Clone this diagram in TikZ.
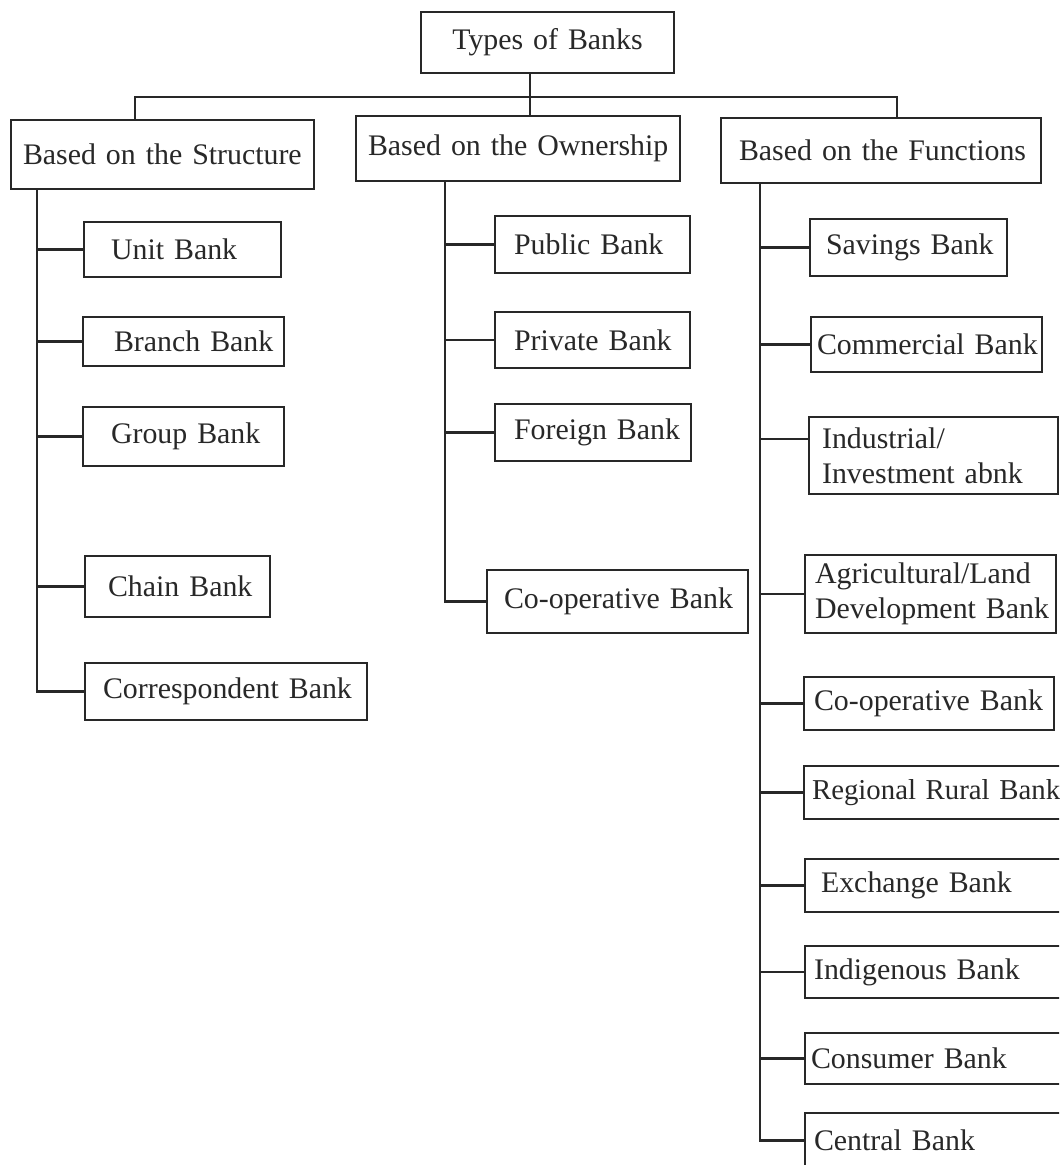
\documentclass[tikz,border=0pt]{standalone}
\usepackage{fontspec}
\setmainfont{Liberation Serif}
\usetikzlibrary{calc}
\definecolor{ink}{RGB}{40,40,40}
\begin{document}
\begin{tikzpicture}[x=0.02cm,y=-0.02cm,
  ln/.style={draw=ink, line width=1.2pt},
  bx/.style={draw=ink, line width=1.2pt, anchor=west, align=left, inner xsep=0pt, inner ysep=0pt, text=ink, font=\fontsize{17}{20}\selectfont},
  ]
\useasboundingbox (0,0) rectangle (1059,1165);
\fill[white] (0,0) rectangle (1059,1165);
\clip (0,0) rectangle (1059,1165);
% column coordinates
\coordinate (tx) at (530,0);
\coordinate (lx) at (135,0);
\coordinate (rx) at (897,0);
\coordinate (bar) at (0,97);
\coordinate (sx) at (37,0);
\coordinate (ox) at (445,0);
\coordinate (fx) at (760,0);
% top
\node[bx, align=center, text width=5.06cm, minimum height=1.22cm] (t) at (420,42.5) {Types of Banks};
\node[bx, text width=6.06cm, minimum height=1.38cm] (s) at (10,154.5) {\hspace*{0.24cm}Based on the Structure};
\node[bx, text width=6.48cm, minimum height=1.30cm] (o) at (355,148.5) {\hspace*{0.24cm}Based on the Ownership};
\node[bx, text width=6.40cm, minimum height=1.30cm] (f) at (720,150.5) {\hspace*{0.36cm}Based on the Functions};
% structure
\node[bx, text width=3.94cm, minimum height=1.10cm] (c1) at (83,249.5) {\hspace*{0.54cm}Unit Bank};
\node[bx, text width=4.02cm, minimum height=0.98cm] (c2) at (82,341.5) {\hspace*{0.62cm}Branch Bank};
\node[bx, text width=4.02cm, minimum height=1.18cm] (c3) at (82,436.5) {\hspace*{0.56cm}Group Bank};
\node[bx, text width=3.70cm, minimum height=1.22cm] (c4) at (84,586.5) {\hspace*{0.46cm}Chain Bank};
\node[bx, text width=5.64cm, minimum height=1.14cm] (c5) at (84,691.5) {\hspace*{0.36cm}Correspondent Bank};
% ownership
\node[bx, text width=3.90cm, minimum height=1.14cm] (o1) at (494,244.5) {\hspace*{0.38cm}Public Bank};
\node[bx, text width=3.90cm, minimum height=1.12cm] (o2) at (494,340) {\hspace*{0.38cm}Private Bank};
\node[bx, text width=3.92cm, minimum height=1.14cm] (o3) at (494,432.5) {\hspace*{0.38cm}Foreign Bank};
\node[bx, text width=5.22cm, minimum height=1.26cm] (o4) at (486,601.5) {\hspace*{0.34cm}Co-operative Bank};
% functions
\node[bx, text width=3.94cm, minimum height=1.14cm] (f1) at (809,247.5) {\hspace*{0.32cm}Savings Bank};
\node[bx, text width=4.62cm, minimum height=1.10cm] (f2) at (810,344.5) {\hspace*{0.12cm}Commercial Bank};
\node[bx, text width=4.98cm, minimum height=1.54cm] (f3) at (808,455.5) {\hspace*{0.26cm}Industrial/\\\hspace*{0.26cm}Investment abnk};
\node[bx, text width=5.02cm, minimum height=1.56cm] (f4) at (804,594) {\hspace*{0.20cm}Agricultural/Land\\\hspace*{0.20cm}Development Bank};
\node[bx, text width=5.00cm, minimum height=1.06cm] (f5) at (803,703.5) {\hspace*{0.20cm}Co-operative Bank};
\node[bx, text width=5.44cm, minimum height=1.06cm, font=\fontsize{16.4}{20}\selectfont] (f6) at (803,792.5) {\hspace*{0.16cm}Regional Rural Bank};
\node[bx, text width=5.42cm, minimum height=1.06cm] (f7) at (804,885.5) {\hspace*{0.32cm}Exchange Bank};
\node[bx, text width=5.42cm, minimum height=1.04cm] (f8) at (804,972) {\hspace*{0.18cm}Indigenous Bank};
\node[bx, text width=5.42cm, minimum height=1.02cm] (f9) at (804,1058.5) {\hspace*{0.12cm}Consumer Bank};
\node[bx, text width=5.42cm, minimum height=1.10cm] (f10) at (804,1140.5) {\hspace*{0.18cm}Central Bank};
% connectors top
\draw[ln] (t.south -| tx) -- (o.north -| tx);
\draw[ln] (s.north -| lx) -- (bar -| lx) -- (bar -| rx) -- (f.north -| rx);
% structure spine
\draw[ln] (s.south -| sx) -- (c5.west -| sx) -- (c5.west);
\foreach \c in {c1,c2,c3,c4} \draw[ln] (\c.west -| sx) -- (\c.west);
% ownership spine
\draw[ln] (o.south -| ox) -- (o4.west -| ox) -- (o4.west);
\foreach \c in {o1,o2,o3} \draw[ln] (\c.west -| ox) -- (\c.west);
% functions spine
\draw[ln] (f.south -| fx) -- (f10.west -| fx) -- (f10.west);
\foreach \c in {f1,f2,f4,f5,f6,f7,f8,f9} \draw[ln] (\c.west -| fx) -- (\c.west);
\coordinate (f3c) at ($(f3.north west)!0.29!(f3.south west)$);
\draw[ln] (f3c -| fx) -- (f3c);
\end{tikzpicture}
\end{document}
